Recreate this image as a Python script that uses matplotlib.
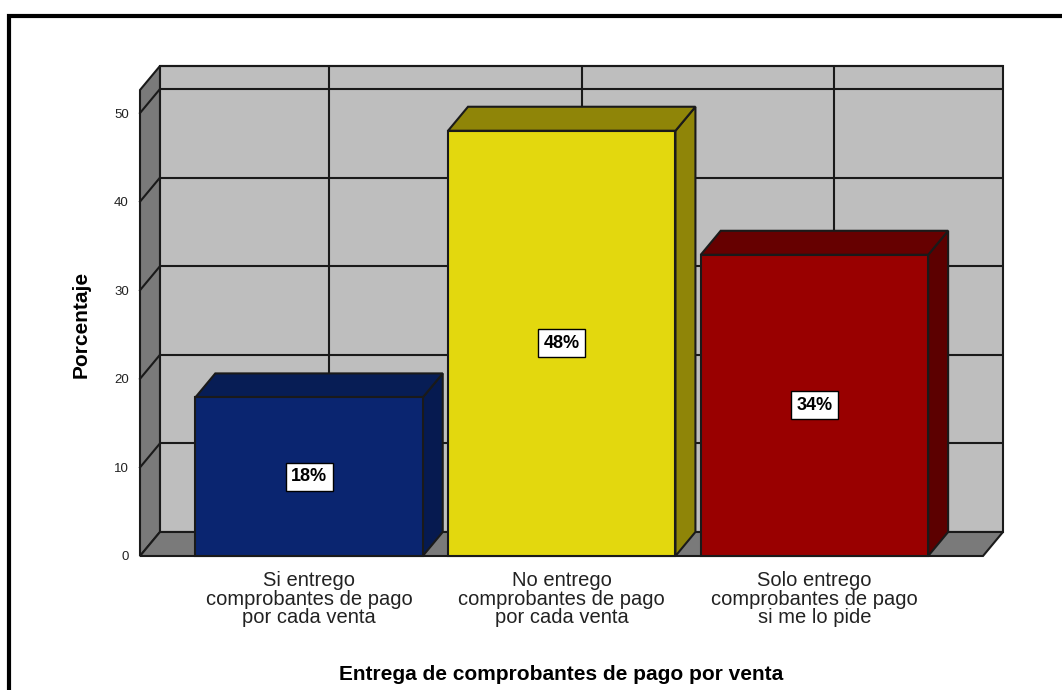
import matplotlib
matplotlib.use("Agg")
import matplotlib.pyplot as plt
from matplotlib.lines import Line2D
from matplotlib.patches import Polygon

categories = ["Si entrego\ncomprobantes de pago\npor cada venta",
              "No entrego\ncomprobantes de pago\npor cada venta",
              "Solo entrego\ncomprobantes de pago\nsi me lo pide"]
values = [18, 48, 34]
heights = [17.9, 48, 34]
y_ticks = [0, 10, 20, 30, 40, 50]

front_colors = ["#0A2570", "#E3D80E", "#990000"]
side_colors = ["#061A50", "#8F8508", "#5C0000"]
top_colors = ["#071D55", "#8F8508", "#660000"]
wall_color = "#BEBEBE"
shade_color = "#7A7A7A"
edge = "#1A1A1A"

W, H = 1062, 690
plt.rcParams["font.family"] = ["Liberation Sans", "DejaVu Sans"]
fig = plt.figure(figsize=(W / 100, H / 100), dpi=100)

# front plane of the 3d box, in pixels of the reference
ax = fig.add_axes([140 / W, 1 - 556 / H, (983 - 140) / W, (556 - 90) / H])
x_min, x_max = -0.669, 2.667
y_max = 52.6
ax.set_xlim(x_min, x_max)
ax.set_ylim(0, y_max)
for s in ax.spines.values():
    s.set_visible(False)
ax.patch.set_visible(False)

# depth of the oblique projection in data units
dx = 0.079
dy = 2.71
bar_w = 0.9


def poly(points, color, z=1):
    ax.add_patch(Polygon(points, closed=True, facecolor=color, edgecolor=edge,
                         linewidth=1.5, clip_on=False, zorder=z))


# back wall, left wall, floor
poly([(x_min + dx, dy), (x_max + dx, dy), (x_max + dx, y_max + dy),
      (x_min + dx, y_max + dy)], wall_color)
poly([(x_min, 0), (x_min + dx, dy), (x_min + dx, y_max + dy), (x_min, y_max)],
     shade_color)
poly([(x_min, 0), (x_max, 0), (x_max + dx, dy), (x_min + dx, dy)], shade_color)

# grid lines on the walls
for t in y_ticks[1:] + [y_max]:
    ax.plot([x_min + dx, x_max + dx], [t + dy, t + dy], color=edge, lw=1.5,
            clip_on=False, zorder=2, solid_capstyle="butt")
for t in y_ticks[1:]:
    ax.plot([x_min, x_min + dx], [t, t + dy], color=edge, lw=1.5,
            clip_on=False, zorder=2)
for i in range(len(categories)):
    ax.plot([i + dx, i + dx], [dy, y_max + dy], color=edge, lw=1.5,
            clip_on=False, zorder=2, solid_capstyle="butt")

# bars
for i, h in enumerate(heights):
    l = i - bar_w / 2
    r = i + bar_w / 2
    poly([(r, 0), (r + dx, dy), (r + dx, h + dy), (r, h)], side_colors[i], 3)
    poly([(l, h), (r, h), (r + dx, h + dy), (l + dx, h + dy)], top_colors[i], 3)
    poly([(l, 0), (r, 0), (r, h), (l, h)], front_colors[i], 4)
    ax.text(i, h / 2, str(values[i]) + "%", ha="center", va="center",
            fontsize=13, fontweight="bold", color="black", zorder=5,
            bbox=dict(boxstyle="square,pad=0.3", facecolor="white",
                      edgecolor="black", linewidth=1))

ax.set_yticks(y_ticks)
ax.set_xticks(range(len(categories)))
ax.set_xticklabels(categories, fontsize=14.5, color="#222222", linespacing=0.95)
ax.tick_params(axis="x", length=0, pad=11)
ax.tick_params(axis="y", length=0, pad=8, labelsize=9.5, labelcolor="#222222")

fig.text(81 / W, 1 - 324 / H, "Porcentaje", rotation=90, ha="center",
         va="center", fontsize=15, fontweight="bold")
fig.text(561 / W, 1 - 675 / H, "Entrega de comprobantes de pago por venta",
         ha="center", va="center", fontsize=15, fontweight="bold")

# black frame round the picture, cut off at right and bottom
fig.add_artist(Line2D([9 / W, 9 / W, 1], [0, 1 - 16 / H, 1 - 16 / H],
                      color="black", linewidth=3, solid_joinstyle="miter"))

fig.savefig("out.png", dpi=100)
plt.close()
